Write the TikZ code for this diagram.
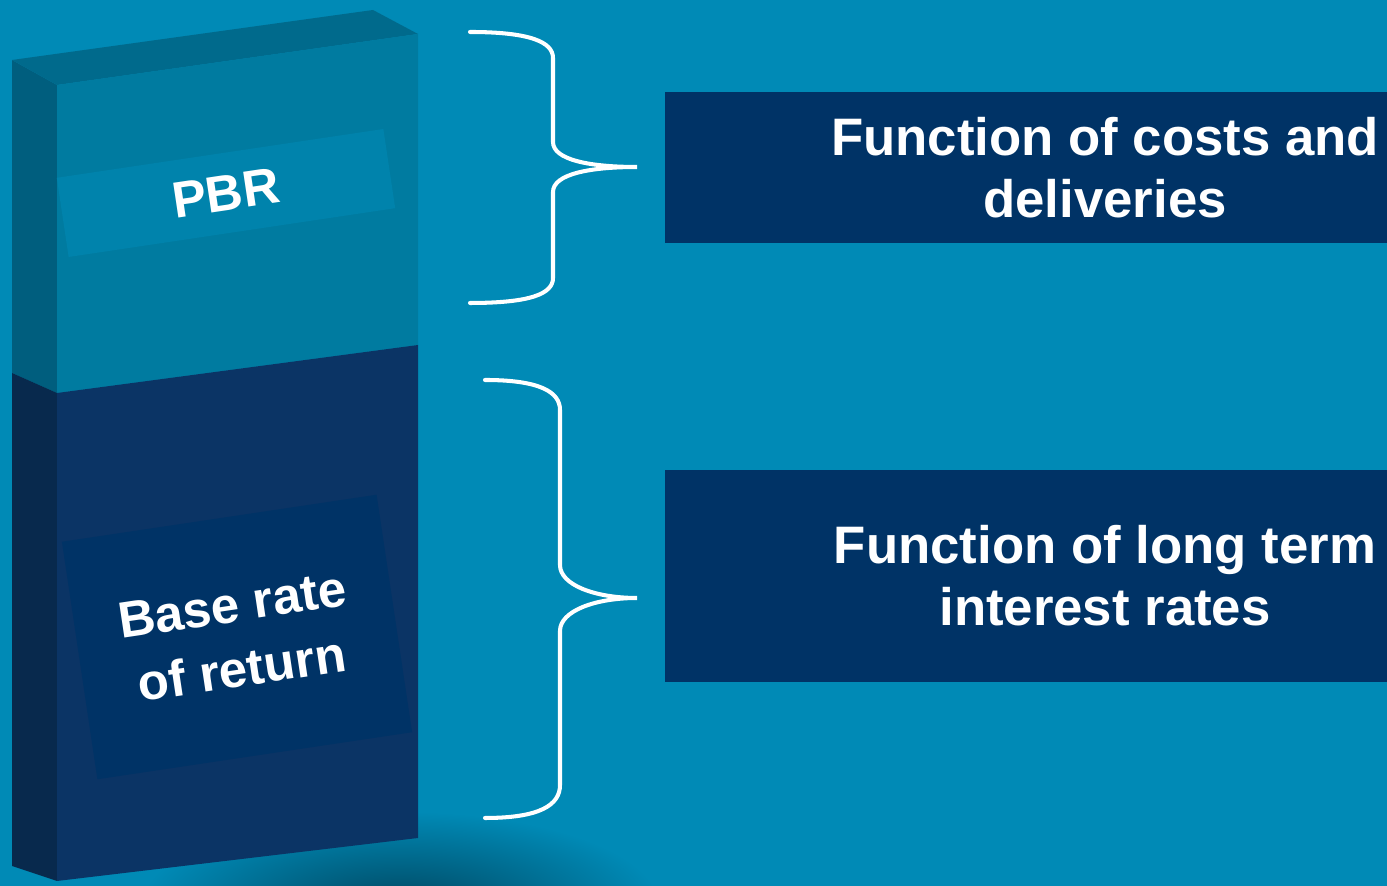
\documentclass[tikz,border=0pt]{standalone}
\usepackage{fontspec}
\setsansfont{Liberation Sans}
\usetikzlibrary{positioning}

\definecolor{sea}{RGB}{0,138,182}
\definecolor{seashadow}{RGB}{0,72,98}
\definecolor{bartop}{RGB}{0,106,140}
\definecolor{pbrfront}{RGB}{0,123,160}
\definecolor{pbrband}{RGB}{0,131,172}
\definecolor{pbrside}{RGB}{0,94,126}
\definecolor{basefront}{RGB}{11,52,101}
\definecolor{baseband}{RGB}{0,51,102}
\definecolor{baseside}{RGB}{8,41,77}
\definecolor{navy}{RGB}{0,51,102}

% soft dark spot under the bar
\pgfdeclareradialshading{softspot}{\pgfpoint{0bp}{0bp}}{color(0bp)=(seashadow); color(18bp)=(sea); color(25bp)=(sea); color(50bp)=(sea)}

\tikzset{
  barlabel/.style={text=white, rotate=8.5, align=center, inner sep=0pt,
    font=\sffamily\bfseries\fontsize{14.5}{18.5}\selectfont},
  infobox/.style={fill=navy, text=white, align=center, inner sep=0pt,
    minimum width=8.8cm, font=\sffamily\bfseries\fontsize{15}{17.6}\selectfont},
  brace/.style={white, line width=1.15pt, line cap=round},
}

\begin{document}
\begin{tikzpicture}[x=0.01cm, y=-0.01cm]
    \useasboundingbox (0,0) rectangle (1387,886);
    \clip (0,0) rectangle (1387,886);
    \fill[sea] (0,0) rectangle (1387,886);
    \shade[shading=softspot] (400,905) ellipse [x radius=3.6cm, y radius=1.3cm];

    % the bar
    \fill[pbrside] (12,60) -- (57,85) -- (57,393) -- (12,373) -- cycle;
    \fill[baseside] (12,373) -- (57,393) -- (57,881) -- (12,866) -- cycle;
    \fill[bartop] (12,60) -- (373,10) -- (418,34) -- (57,85) -- cycle;
    \fill[pbrfront] (57,85) -- (418,34) -- (418,345) -- (57,393) -- cycle;
    \fill[basefront] (57,393) -- (418,345) -- (418,838) -- (57,881) -- cycle;

    \node[barlabel, fill=pbrband, minimum width=3.3cm, minimum height=0.8cm] (pbr) at (226,193) {PBR};
    \node[barlabel, fill=baseband, minimum width=3.18cm, minimum height=2.4cm] (base) at (237,637) {Base rate\\of return};

    % braces
    \coordinate (tipA) at (637,167);
    \coordinate (tipB) at (637,598);
    \draw[brace] (470,32) .. controls (530,32) and (553,42) .. (553,58) -- (553,142)
        .. controls (553,160) and (590,167) .. (tipA)
        .. controls (590,167) and (553,174) .. (553,192) -- (553,278)
        .. controls (553,294) and (530,303) .. (470,303);
    \draw[brace] (485,380) .. controls (540,380) and (560,392) .. (560,410) -- (560,565)
        .. controls (560,585) and (595,598) .. (tipB)
        .. controls (595,598) and (560,611) .. (560,631) -- (560,785)
        .. controls (560,805) and (540,818) .. (485,818);

    \node[infobox, minimum height=1.51cm] (costs) at (1105,167.5) {Function of costs and\\deliveries};
    \node[infobox, minimum height=2.12cm] (rates) at (1105,576) {Function of long term\\interest rates};
\end{tikzpicture}
\end{document}
